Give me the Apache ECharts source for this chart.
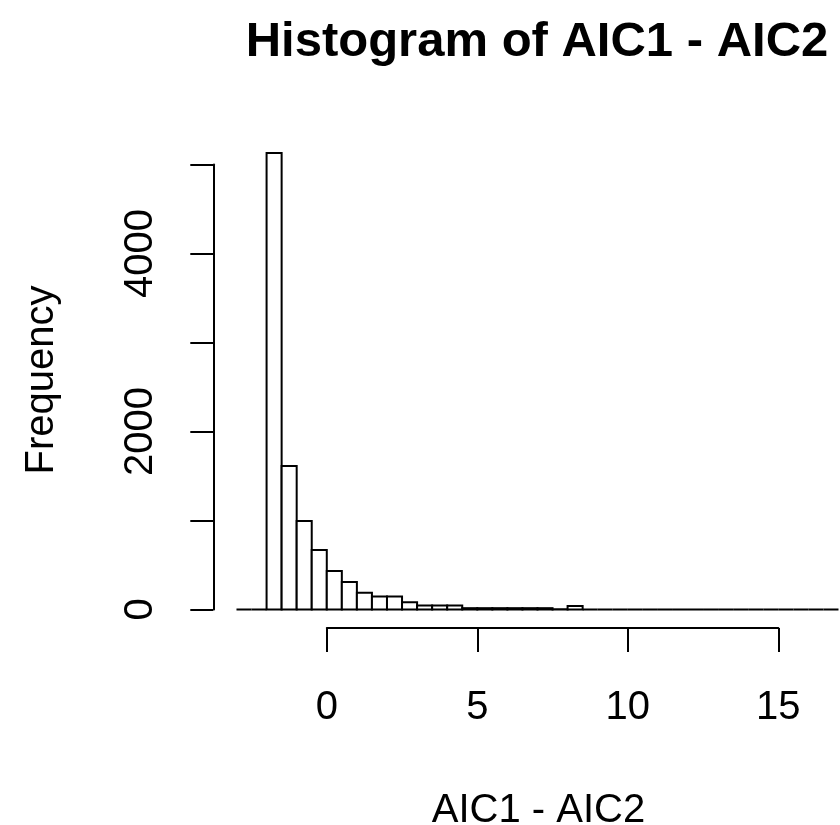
<!DOCTYPE html>
<html>
<head>
<meta charset="utf-8">
<script src="https://cdn.jsdelivr.net/npm/echarts@6/dist/echarts.min.js"></script>
<style>
  html, body { margin: 0; padding: 0; background: #fff; }
  #chart { width: 840px; height: 825px; }
</style>
</head>
<body>
<div id="chart"></div>
<script>
// histogram bins (left edges), width 0.5
const binWidth = 0.5;
const binStarts = [
  -3, -2.5, -2, -1.5, -1, -0.5, 0, 0.5, 1, 1.5,
  2, 2.5, 3, 3.5, 4, 4.5, 5, 5.5, 6, 6.5,
  7, 7.5, 8, 8.5, 9, 9.5, 10, 10.5, 11, 11.5,
  12, 12.5, 13, 13.5, 14, 14.5, 15, 15.5, 16, 16.5
];
const counts = [
  0, 0, 5130, 1612, 994, 669, 433, 309, 189, 146,
  146, 81, 45, 45, 45, 15, 15, 15, 15, 15,
  15, 3, 40, 0, 0, 0, 0, 0, 0, 0,
  0, 0, 0, 0, 0, 0, 0, 0, 0, 0
];
const xTicks = [0, 5, 10, 15];
const yLabelled = [0, 2000, 4000];

const chart = echarts.init(document.getElementById("chart"));

const font = "Liberation Sans, Arial, sans-serif";
const data = binStarts.map((s, i) => [s, s + binWidth, counts[i]]);

const option = {
  animation: false,
  backgroundColor: "#fff",
  grid: [
    // plot region, cut at the right edge of the picture
    { left: 212.4, width: 627.6, top: 128.9, height: 480.6 },
    // x axis: 0..15
    { left: 326.8, width: 451.5, top: 600, height: 28 },
    // y axis: 0..5000
    { left: 213.3, width: 10, top: 164.5, height: 445 },
  ],
  xAxis: [
    { gridIndex: 0, type: "value", min: -3.8, max: 17.05, show: false },
    {
      gridIndex: 1,
      type: "value",
      min: 0,
      max: 15,
      interval: 5,
      position: "bottom",
      axisLine: { show: true, lineStyle: { color: "#000", width: 2 } },
      axisTick: { show: true, inside: false, length: 24, lineStyle: { color: "#000", width: 2 } },
      axisLabel: {
        show: true,
        margin: 60,
        color: "#000",
        fontSize: 40,
        fontFamily: font,
        customValues: xTicks,
      },
      splitLine: { show: false },
    },
    { gridIndex: 2, type: "value", min: 0, max: 1, show: false },
  ],
  yAxis: [
    { gridIndex: 0, type: "value", min: 0, max: 5400, show: false },
    { gridIndex: 1, type: "value", min: 0, max: 1, show: false },
    {
      gridIndex: 2,
      type: "value",
      min: 0,
      max: 5000,
      interval: 1000,
      position: "left",
      axisLine: { show: true, lineStyle: { color: "#000", width: 2 } },
      axisTick: { show: true, inside: false, length: 23, lineStyle: { color: "#000", width: 2 } },
      axisLabel: {
        show: true,
        rotate: 90,
        margin: 52,
        color: "#000",
        fontSize: 40,
        fontFamily: font,
        formatter: (v) => (yLabelled.indexOf(v) >= 0 ? String(v) : ""),
      },
      splitLine: { show: false },
    },
  ],
  series: [
    {
      type: "custom",
      xAxisIndex: 0,
      yAxisIndex: 0,
      clip: false,
      data: data,
      renderItem: (params, api) => {
        const p0 = api.coord([api.value(0), api.value(2)]);
        const p1 = api.coord([api.value(1), 0]);
        return {
          type: "rect",
          shape: { x: p0[0], y: p0[1], width: p1[0] - p0[0], height: p1[1] - p0[1] },
          style: { fill: "#fff", stroke: "#000", lineWidth: 2 },
        };
      },
    },
  ],
  graphic: [
    {
      type: "text",
      x: 537,
      y: 42,
      style: {
        text: "Histogram of AIC1 - AIC2",
        font: "bold 49px " + font,
        fill: "#000",
        textAlign: "center",
        textVerticalAlign: "middle",
      },
    },
    {
      type: "text",
      x: 538.5,
      y: 811,
      style: {
        text: "AIC1 - AIC2",
        font: "40px " + font,
        fill: "#000",
        textAlign: "center",
        textVerticalAlign: "middle",
      },
    },
    {
      type: "text",
      x: 42,
      y: 380,
      rotation: Math.PI / 2,
      style: {
        text: "Frequency",
        font: "40px " + font,
        fill: "#000",
        textAlign: "center",
        textVerticalAlign: "middle",
      },
    },
  ],
};

chart.setOption(option);
</script>
</body>
</html>
